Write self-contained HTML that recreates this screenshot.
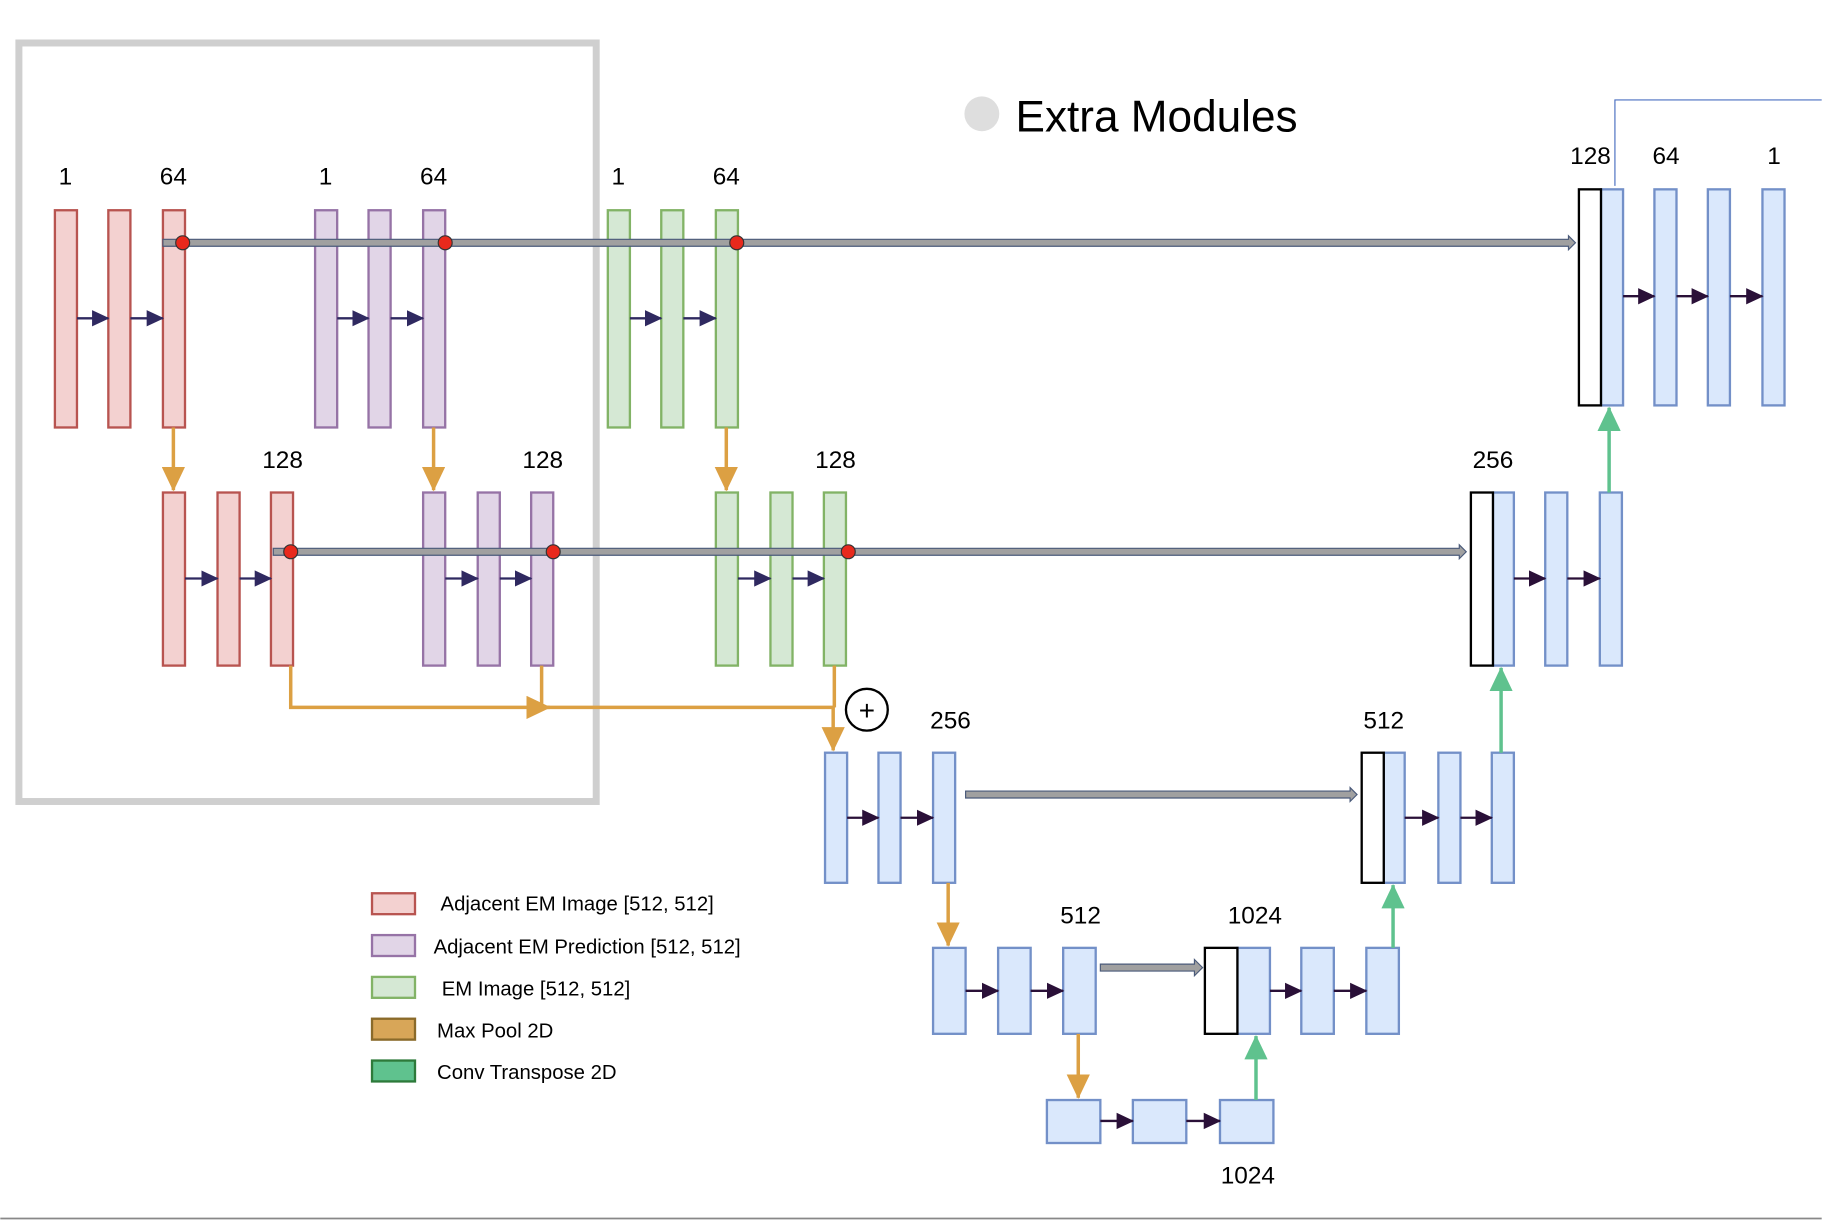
<!DOCTYPE html>
<html><head><meta charset="utf-8"><style>
html,body{margin:0;padding:0;background:#fff;}
svg{display:block;}
text{font-family:"Liberation Sans",sans-serif;}
</style></head><body>
<svg width="1822" height="1222" viewBox="0 0 1568 1052" xmlns="http://www.w3.org/2000/svg">
<defs>
<marker id="dk2" markerWidth="16" markerHeight="16" refX="14" refY="8" orient="auto" markerUnits="userSpaceOnUse"><path d="M0,1 L15,8 L0,15z" fill="#2a1038"/></marker>
<marker id="nv" markerWidth="16" markerHeight="16" refX="14" refY="8" orient="auto" markerUnits="userSpaceOnUse"><path d="M0,1 L15,8 L0,15z" fill="#2f2960"/></marker>
<marker id="or" markerWidth="22" markerHeight="20" refX="20" refY="10" orient="auto" markerUnits="userSpaceOnUse"><path d="M0,0 L21,10 L0,20z" fill="#dca043"/></marker>
<marker id="gr" markerWidth="22" markerHeight="20" refX="20" refY="10" orient="auto" markerUnits="userSpaceOnUse"><path d="M0,0 L21,10 L0,20z" fill="#5fc28e"/></marker>
</defs>

<rect x="16" y="37" width="497" height="653" fill="none" stroke="#cfcfcf" stroke-width="6"/>

<circle cx="845" cy="98" r="15" fill="#dedede"/>
<text x="874" y="113" font-size="38" fill="#000">Extra Modules</text>
<polyline points="1390,160 1390,86 1568,86" fill="none" stroke="#4a6fc0" stroke-width="1"/>

<g font-size="21" fill="#000" text-anchor="middle">
<text x="56" y="159">1</text><text x="149" y="159">64</text>
<text x="280" y="159">1</text><text x="373" y="159">64</text>
<text x="532" y="159">1</text><text x="625" y="159">64</text>
<text x="243" y="403">128</text><text x="467" y="403">128</text><text x="719" y="403">128</text>
<text x="1369" y="141">128</text><text x="1434" y="141">64</text><text x="1527" y="141">1</text>
<text x="1285" y="403">256</text>
<text x="818" y="627">256</text><text x="1191" y="627">512</text>
<text x="930" y="795">512</text><text x="1080" y="795">1024</text>
<text x="1074" y="1019">1024</text>
</g>

<g stroke-width="2">
<g fill="#f3d1d0" stroke="#b85450">
<rect x="47" y="181" width="19" height="187"/><rect x="93" y="181" width="19" height="187"/><rect x="140" y="181" width="19" height="187"/>
<rect x="140" y="424" width="19" height="149"/><rect x="187" y="424" width="19" height="149"/><rect x="233" y="424" width="19" height="149"/>
</g>
<g fill="#e1d5e7" stroke="#9673a6">
<rect x="271" y="181" width="19" height="187"/><rect x="317" y="181" width="19" height="187"/><rect x="364" y="181" width="19" height="187"/>
<rect x="364" y="424" width="19" height="149"/><rect x="411" y="424" width="19" height="149"/><rect x="457" y="424" width="19" height="149"/>
</g>
<g fill="#d5e8d4" stroke="#82b366">
<rect x="523" y="181" width="19" height="187"/><rect x="569" y="181" width="19" height="187"/><rect x="616" y="181" width="19" height="187"/>
<rect x="616" y="424" width="19" height="149"/><rect x="663" y="424" width="19" height="149"/><rect x="709" y="424" width="19" height="149"/>
</g>
<g fill="#dae8fc" stroke="#7390c8">
<rect x="1378" y="163" width="19" height="186"/><rect x="1424" y="163" width="19" height="186"/><rect x="1470" y="163" width="19" height="186"/><rect x="1517" y="163" width="19" height="186"/>
<rect x="1285" y="424" width="18" height="149"/><rect x="1330" y="424" width="19" height="149"/><rect x="1377" y="424" width="19" height="149"/>
<rect x="710" y="648" width="19" height="112"/><rect x="756" y="648" width="19" height="112"/><rect x="803" y="648" width="19" height="112"/>
<rect x="1191" y="648" width="18" height="112"/><rect x="1238" y="648" width="19" height="112"/><rect x="1284" y="648" width="19" height="112"/>
<rect x="803" y="816" width="28" height="74"/><rect x="859" y="816" width="28" height="74"/><rect x="915" y="816" width="28" height="74"/>
<rect x="1065" y="816" width="28" height="74"/><rect x="1120" y="816" width="28" height="74"/><rect x="1176" y="816" width="28" height="74"/>
<rect x="901" y="947" width="46" height="37"/><rect x="975" y="947" width="46" height="37"/><rect x="1050" y="947" width="46" height="37"/>
</g>
<g fill="#fff" stroke="#000">
<rect x="1359" y="163" width="19" height="186"/>
<rect x="1266" y="424" width="19" height="149"/>
<rect x="1172" y="648" width="19" height="112"/>
<rect x="1037" y="816" width="28" height="74"/>
</g>
</g>

<!-- gray skip lines (on top of bars) -->
<g fill="#a0a0a0" stroke="#4a5a7a" stroke-width="1">
<path d="M140,206 H1350 V203 L1356,209 L1350,215 V212 H140z"/>
<path d="M235,472 H1256 V469 L1262,475 L1256,481 V478 H235z"/>
<path d="M831,681 H1162 V678 L1168,684 L1162,690 V687 H831z"/>
<path d="M947,830 H1028 V826 L1035,833 L1028,840 V836 H947z"/>
</g>

<g stroke="#2f2960" stroke-width="2" marker-end="url(#nv)">
<line x1="66" y1="274" x2="93" y2="274"/><line x1="112" y1="274" x2="140" y2="274"/>
<line x1="290" y1="274" x2="317" y2="274"/><line x1="336" y1="274" x2="364" y2="274"/>
<line x1="542" y1="274" x2="569" y2="274"/><line x1="588" y1="274" x2="616" y2="274"/>
<line x1="159" y1="498" x2="187" y2="498"/><line x1="206" y1="498" x2="233" y2="498"/>
<line x1="383" y1="498" x2="411" y2="498"/><line x1="430" y1="498" x2="457" y2="498"/>
<line x1="635" y1="498" x2="663" y2="498"/><line x1="682" y1="498" x2="709" y2="498"/>
</g>
<g stroke="#2a1038" stroke-width="2" marker-end="url(#dk2)">
<line x1="1397" y1="255" x2="1424" y2="255"/><line x1="1443" y1="255" x2="1470" y2="255"/><line x1="1489" y1="255" x2="1517" y2="255"/>
<line x1="1303" y1="498" x2="1330" y2="498"/><line x1="1349" y1="498" x2="1377" y2="498"/>
<line x1="729" y1="704" x2="756" y2="704"/><line x1="775" y1="704" x2="803" y2="704"/>
<line x1="1209" y1="704" x2="1238" y2="704"/><line x1="1257" y1="704" x2="1284" y2="704"/>
<line x1="831" y1="853" x2="859" y2="853"/><line x1="887" y1="853" x2="915" y2="853"/>
<line x1="1093" y1="853" x2="1120" y2="853"/><line x1="1148" y1="853" x2="1176" y2="853"/>
<line x1="947" y1="965" x2="975" y2="965"/><line x1="1021" y1="965" x2="1050" y2="965"/>
</g>

<g stroke="#dca043" stroke-width="3" fill="none">
<line x1="149" y1="368" x2="149" y2="422" marker-end="url(#or)"/>
<line x1="373" y1="368" x2="373" y2="422" marker-end="url(#or)"/>
<line x1="625" y1="368" x2="625" y2="422" marker-end="url(#or)"/>
<polyline points="250,573 250,609 473,609" marker-end="url(#or)"/>
<polyline points="466,573 466,609 717,609 717,646" marker-end="url(#or)"/>
<line x1="718" y1="573" x2="718" y2="609"/>
<line x1="816" y1="760" x2="816" y2="814" marker-end="url(#or)"/>
<line x1="928" y1="890" x2="928" y2="945" marker-end="url(#or)"/>
</g>
<circle cx="746" cy="611" r="18" fill="#fff" stroke="#000" stroke-width="2"/>
<text x="746" y="620" font-size="24" text-anchor="middle">+</text>

<g stroke="#5fc28e" stroke-width="3">
<line x1="1081" y1="947" x2="1081" y2="892" marker-end="url(#gr)"/>
<line x1="1199" y1="816" x2="1199" y2="762" marker-end="url(#gr)"/>
<line x1="1292" y1="648" x2="1292" y2="575" marker-end="url(#gr)"/>
<line x1="1385" y1="424" x2="1385" y2="351" marker-end="url(#gr)"/>
</g>

<g fill="#e8291c" stroke="#333" stroke-width="1">
<circle cx="157" cy="209" r="6"/><circle cx="383" cy="209" r="6"/><circle cx="634" cy="209" r="6"/>
<circle cx="250" cy="475" r="6"/><circle cx="476" cy="475" r="6"/><circle cx="730" cy="475" r="6"/>
</g>

<g stroke-width="2">
<rect x="320" y="769" width="37" height="18" fill="#f3d1d0" stroke="#b85450"/>
<rect x="320" y="805" width="37" height="18" fill="#e1d5e7" stroke="#9673a6"/>
<rect x="320" y="841" width="37" height="18" fill="#d5e8d4" stroke="#82b366"/>
<rect x="320" y="877" width="37" height="18" fill="#d8a658" stroke="#8a6a2a"/>
<rect x="320" y="913" width="37" height="18" fill="#5fc28e" stroke="#2d7a3a"/>
</g>
<g font-size="17.5" fill="#000">
<text x="379" y="784">Adjacent EM Image [512, 512]</text>
<text x="373" y="821">Adjacent EM Prediction [512, 512]</text>
<text x="380" y="857">EM Image [512, 512]</text>
<text x="376" y="893">Max Pool 2D</text>
<text x="376" y="929">Conv Transpose 2D</text>
</g>

<line x1="0" y1="1049" x2="1568" y2="1049" stroke="#888" stroke-width="1.5"/>
</svg>
</body></html>
